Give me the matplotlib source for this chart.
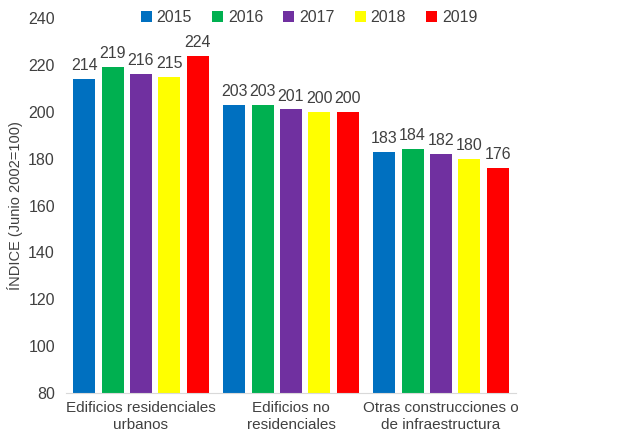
import numpy as np
import matplotlib.pyplot as plt

plt.rcParams["font.family"] = ["Liberation Sans", "DejaVu Sans"]

categories = ["Edificios residenciales\nurbanos", "Edificios no\nresidenciales",
              "Otras construcciones o\nde infraestructura"]
years = ["2015", "2016", "2017", "2018", "2019"]
v2015 = [214, 203, 183]
v2016 = [219, 203, 184]
v2017 = [216, 201, 182]
v2018 = [215, 200, 180]
v2019 = [224, 200, 176]
series = [v2015, v2016, v2017, v2018, v2019]
colors = ["#0070C0", "#00B050", "#7030A0", "#FFFF00", "#FF0000"]

txt = "#404040"
fig = plt.figure(figsize=(6.19, 4.41), dpi=100)
ax = fig.add_axes([66 / 619, 48 / 441, 450 / 619, 375 / 441])

x = np.arange(len(categories))
slot = 0.189
width = 0.147
for i, (vals, c, y) in enumerate(zip(series, colors, years)):
    pos = x + (i - 2) * slot
    ax.bar(pos, [v - 80 for v in vals], width, bottom=80, color=c, label=y)
    for p, v in zip(pos, vals):
        ax.text(p, v + 2.5, str(v), ha="center", va="bottom", fontsize=11.5, color=txt)

ax.set_xlim(-0.5, 2.5)
ax.set_ylim(80, 240)
ax.set_yticks(range(80, 241, 20))
ax.set_xticks(x)
ax.set_xticklabels(categories, fontsize=11, color=txt)
ax.tick_params(axis="y", labelsize=11.5, colors=txt, length=0, pad=8)
ax.tick_params(axis="x", length=0, pad=6)
for s in ["top", "right", "left"]:
    ax.spines[s].set_visible(False)
ax.spines["bottom"].set_color("#D9D9D9")
ax.set_ylabel("ÍNDICE (Junio 2002=100)", fontsize=10.5, color=txt)

ax.legend(loc="upper center", bbox_to_anchor=(0.54, 1.06), ncol=5, frameon=False,
          fontsize=11.5, handlelength=0.7, handleheight=0.7, handletextpad=0.3,
          columnspacing=1.25, labelcolor=txt)

plt.savefig("out.png", dpi=100)
